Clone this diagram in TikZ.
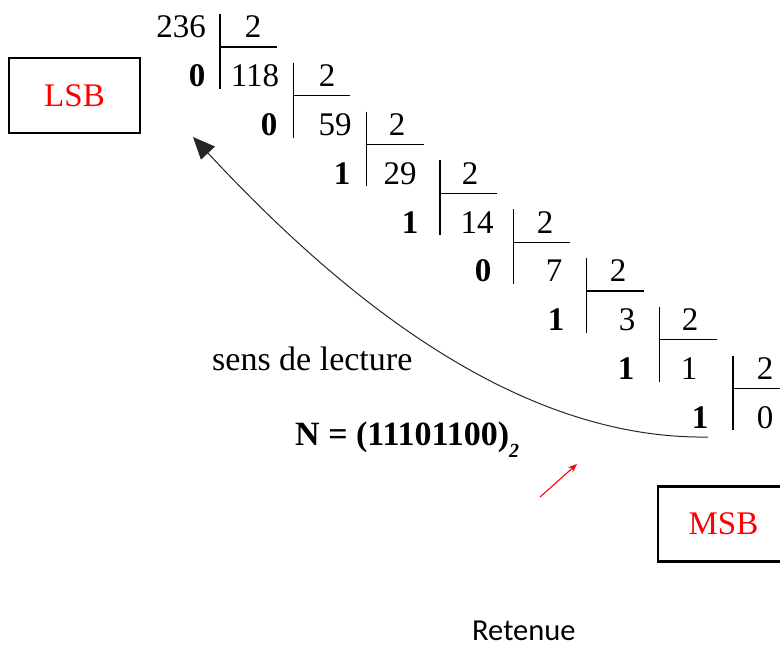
\documentclass[tikz,border=0pt]{standalone}
\usepackage{fontspec}
\setmainfont{Liberation Serif}
\newfontfamily\calibri{Carlito}
\usetikzlibrary{arrows.meta}

\tikzset{
  num/.style={inner sep=0pt, font=\fontsize{33}{36}\selectfont},
  rest/.style={inner sep=0pt, font=\fontsize{33}{36}\selectfont\bfseries},
  bitbox/.style={draw, line width=2.5pt, minimum width=131pt, minimum height=75pt,
    inner sep=0pt, text=red, font=\fontsize{33}{36}\selectfont},
  bar/.style={line width=1.3pt},
}

\begin{document}
\begin{tikzpicture}[x=1pt, y=-1pt]
	\useasboundingbox (0,0) rectangle (780,646);
	
	%--- Boxes ---
	\node[bitbox] (lsb) at (74.5,95.5) {LSB};
	\node[bitbox] (msb) at (723.5,524) {MSB};
	
	%--- Dividends / quotients ---
	\node[num] (q0) at (181,27)    {236};
	\node[num] (q1) at (255,75.8)  {118};
	\node[num] (q2) at (335,124.6) {59};
	\node[num] (q3) at (400,173.4) {29};
	\node[num] (q4) at (477,222.2) {14};
	\node[num] (q5) at (554,271)   {7};
	\node[num] (q6) at (627,319.8) {3};
	\node[num] (q7) at (689,368.6) {1};
	\node[num] (q8) at (765,417.4) {0};
	
	%--- Divisors ---
	\node[num] (v0) at (253,27)    {2};
	\node[num] (v1) at (327,75.8)  {2};
	\node[num] (v2) at (397,124.6) {2};
	\node[num] (v3) at (470,173.4) {2};
	\node[num] (v4) at (545,222.2) {2};
	\node[num] (v5) at (618,271)   {2};
	\node[num] (v6) at (690,319.8) {2};
	\node[num] (v7) at (765,368.6) {2};
	
	%--- Remainders (bits) ---
	\node[rest] (r1) at (197,75.8)  {0};
	\node[rest] (r2) at (269,124.6) {0};
	\node[rest] (r3) at (342,173.4) {1};
	\node[rest] (r4) at (410,222.2) {1};
	\node[rest] (r5) at (483,271)   {0};
	\node[rest] (r6) at (556,319.8) {1};
	\node[rest] (r7) at (626,368.6) {1};
	\node[rest] (r8) at (700,417.4) {1};
	
	% Division bars
	\draw[bar] (220,14)    -- (220,88.8)    (220,47)      -- (277,47);
	\draw[bar] (293.3,62.8)  -- (293.3,137.6)  (293.3,95.8)  -- (350.3,95.8);
	\draw[bar] (366.6,111.6) -- (366.6,186.4)  (366.6,144.6) -- (423.6,144.6);
	\draw[bar] (439.9,160.4) -- (439.9,235.2)  (439.9,193.4) -- (496.9,193.4);
	\draw[bar] (513.2,209.2) -- (513.2,284)    (513.2,242.2) -- (570.2,242.2);
	\draw[bar] (586.5,258)   -- (586.5,332.8)  (586.5,291)   -- (643.5,291);
	\draw[bar] (659.8,306.8) -- (659.8,381.6)  (659.8,339.8) -- (716.8,339.8);
	\draw[bar] (733.1,355.6) -- (733.1,430.4)  (733.1,388.6) -- (790,388.6);
	
	%--- Reading direction ---
	\coordinate (readstart) at (708,437);
	\coordinate (readend) at (193,137);
	\draw[line width=1pt, black!85, -{Triangle[length=22pt,width=19pt]}]
	(readstart) .. controls (508,440) and (329,283) .. (readend);
	
	\node[inner sep=0pt, anchor=base west, font=\fontsize{34}{36}\selectfont]
	(sens) at (212,370) {sens de lecture};
	\node[inner sep=0pt, anchor=base west, font=\fontsize{34}{36}\selectfont\bfseries]
	(result) at (295,445) {N = (11101100)\raisebox{-12pt}{\fontsize{20}{20}\selectfont\itshape 2}};
	
	% Carry arrow + label
	\coordinate (carryfrom) at (540,497);
	\coordinate (carryto) at (577,464);
	\draw[red, line width=1.1pt, -{Stealth[length=9pt,width=7pt]}] (carryfrom) -- (carryto);
	\node[inner sep=0pt, anchor=base west, font=\calibri\fontsize{30.5}{32}\selectfont]
	(carry) at (472,640) {Retenue};
	
\end{tikzpicture}
\end{document}
